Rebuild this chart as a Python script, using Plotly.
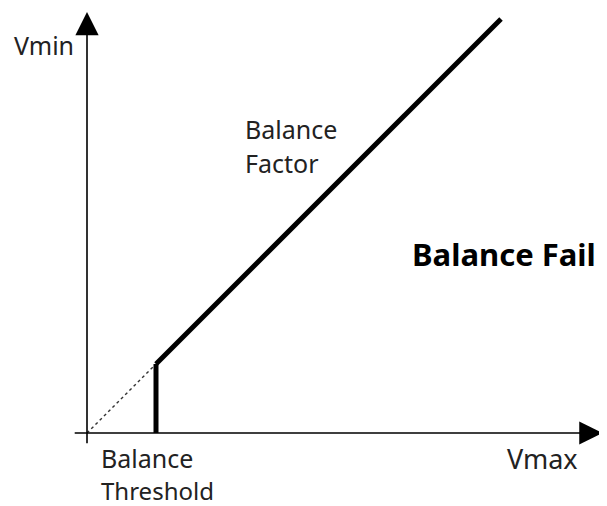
import plotly.graph_objects as go

# ---- data (in arbitrary voltage units) ----
threshold_x = [0.0, 1.0]          # dotted extension from origin to threshold
threshold_y = [0.0, 1.0]
threshold_bar_x = [1.0, 1.0]       # vertical step at balance threshold
threshold_bar_y = [0.0, 1.0]
factor_x = [1.0, 6.0]              # balance factor line
factor_y = [1.0, 6.0]
axis_x_end = 7.47
axis_y_end = 6.10
axis_start = -0.2

# Figure sits at (8,8) in the page (body margin); origin at page (87,433), 69 px/unit
PX = 69.0
OFF = 8
W, H = 607 - OFF, 506 - OFF
x_range = [(OFF - 87) / PX, (607 - 87) / PX]
y_range = [-(506 - 433) / PX, (433 - OFF) / PX]

FONT = "Noto Sans"
TXT = "#222222"

fig = go.Figure()
fig.add_trace(go.Scatter(x=threshold_x, y=threshold_y, mode="lines",
                         line=dict(color="#333333", width=1.4, dash="dot"),
                         hoverinfo="skip", showlegend=False))
fig.add_trace(go.Scatter(x=threshold_bar_x, y=threshold_bar_y, mode="lines",
                         line=dict(color="black", width=5),
                         hoverinfo="skip", showlegend=False))
fig.add_trace(go.Scatter(x=factor_x, y=factor_y, mode="lines",
                         line=dict(color="black", width=5),
                         hoverinfo="skip", showlegend=False))

annotations = [
    # axes with arrowheads
    dict(x=axis_x_end, y=0, ax=axis_start, ay=0, xref="x", yref="y",
         axref="x", ayref="y", text="", showarrow=True, arrowhead=2,
         arrowsize=2.9, arrowwidth=1.6, arrowcolor="black"),
    dict(x=0, y=axis_y_end, ax=0, ay=-0.17, xref="x", yref="y",
         axref="x", ayref="y", text="", showarrow=True, arrowhead=2,
         arrowsize=2.9, arrowwidth=1.6, arrowcolor="black"),
    # labels
    dict(x=-1.09, y=5.63, xref="x", yref="y", text="Vmin", showarrow=False,
         xanchor="left", yanchor="middle", font=dict(family=FONT, size=25, color=TXT)),
    dict(x=6.06, y=-0.37, xref="x", yref="y", text="Vmax", showarrow=False,
         xanchor="left", yanchor="middle", font=dict(family=FONT, size=27, color=TXT)),
    dict(x=0.17, y=-0.36, xref="x", yref="y", text="Balance", showarrow=False,
         xanchor="left", yanchor="middle", font=dict(family=FONT, size=25, color=TXT)),
    dict(x=0.19, y=-0.83, xref="x", yref="y", text="Threshold", showarrow=False,
         xanchor="left", yanchor="middle", borderpad=0,
         font=dict(family=FONT, size=24, color=TXT)),
    dict(x=2.26, y=4.40, xref="x", yref="y", text="Balance", showarrow=False,
         xanchor="left", yanchor="middle", font=dict(family=FONT, size=25, color=TXT)),
    dict(x=2.26, y=3.91, xref="x", yref="y", text="Factor", showarrow=False,
         xanchor="left", yanchor="middle", font=dict(family=FONT, size=25, color=TXT)),
    dict(x=4.68, y=2.59, xref="x", yref="y", text="<b>Balance Fail</b>", showarrow=False,
         xanchor="left", yanchor="middle", font=dict(family=FONT, size=31, color="black")),
]

fig.update_layout(
    width=W, height=H,
    margin=dict(l=0, r=0, t=0, b=0),
    paper_bgcolor="white", plot_bgcolor="white",
    xaxis=dict(range=x_range, visible=False, fixedrange=True),
    yaxis=dict(range=y_range, visible=False, fixedrange=True),
    annotations=annotations,
    showlegend=False,
)

fig.write_html("out.html")
